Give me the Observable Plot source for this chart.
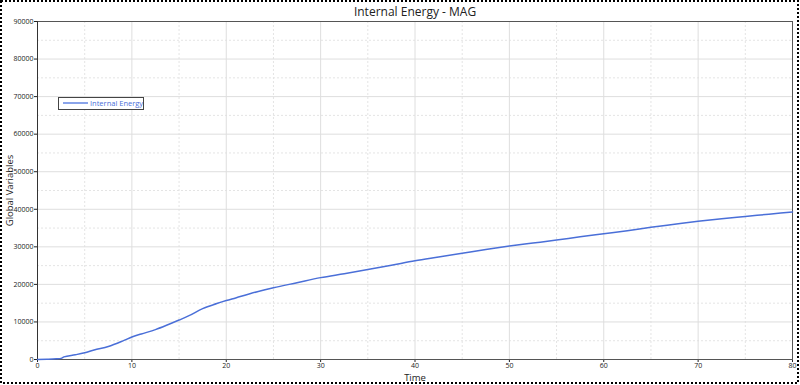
<!DOCTYPE html>
<html>
<head>
<meta charset="utf-8">
<script src="https://cdn.jsdelivr.net/npm/d3@7"></script>
<script src="https://cdn.jsdelivr.net/npm/@observablehq/plot@0.6"></script>
<style>
  html, body { margin: 0; padding: 0; background: #fff; }
  #wrap { position: relative; width: 800px; height: 385px; overflow: hidden; }
  #legend {
    position: absolute; left: 58px; top: 97px; width: 84px; height: 11px;
    border: 1px solid #444; background: #fff; box-sizing: content-box;
    font-family: "Open Sans", sans-serif; font-size: 7.5px; color: #4a6fd8;
    line-height: 11px; white-space: nowrap;
  }
  #legend .sw { display: inline-block; width: 25px; height: 0; border-top: 2px solid #8aa4ea; vertical-align: middle; margin: 0 2px 0 4px; position: relative; top: -1px; }
  #border { position: absolute; left: 0; top: 0; pointer-events: none; }
</style>
</head>
<body>
<div id="wrap">
  <div id="chart"></div>
  <div id="legend"><span class="sw"></span>Internal Energy</div>
  <svg id="border" width="800" height="385"><rect x="1" y="1" width="797" height="382" fill="none" stroke="#000" stroke-width="2" stroke-dasharray="2,2"/></svg>
</div>
<script>
const title = "Internal Energy - MAG";
const seriesName = "Internal Energy";
const xLabel = "Time";
const yLabel = "Global Variables";

const time = [0, 1, 2, 2.5, 2.8, 4, 5, 6, 7.5, 9, 10, 11, 12.5, 14, 15, 16, 17.5, 19, 20, 21, 22.5, 24, 25, 27.5, 30, 32.5, 35, 37.5, 40, 42.5, 45, 47.5, 50, 52.5, 55, 57.5, 60, 62.5, 65, 67.5, 70, 72.5, 75, 77.5, 80];
const energy = [0, 60, 180, 300, 700, 1250, 1800, 2550, 3450, 4900, 6000, 6800, 7950, 9450, 10500, 11600, 13550, 14900, 15700, 16400, 17500, 18500, 19100, 20450, 21800, 22850, 23950, 25100, 26300, 27300, 28300, 29300, 30200, 31000, 31800, 32700, 33500, 34300, 35200, 36000, 36800, 37500, 38100, 38700, 39300];

const xMajor = [0, 10, 20, 30, 40, 50, 60, 70, 80];
const xMinor = [5, 15, 25, 35, 45, 55, 65, 75];
const yMajor = [0, 10000, 20000, 30000, 40000, 50000, 60000, 70000, 80000, 90000];
const yMinor = [5000, 15000, 25000, 35000, 45000, 55000, 65000, 75000, 85000];

const data = time.map((t, i) => ({t, v: energy[i]}));

const chart = Plot.plot({
  width: 800,
  height: 385,
  marginLeft: 37,
  marginRight: 8,
  marginTop: 21,
  marginBottom: 26,
  style: {fontFamily: "'Open Sans', sans-serif", fontSize: "7px", color: "#222", background: "#fff"},
  x: {domain: [0, 80], ticks: xMajor, tickSize: 3, tickPadding: 1, label: xLabel, labelArrow: "none", labelAnchor: "center", labelOffset: 21, tickFormat: d => String(d)},
  y: {domain: [0, 90000], ticks: yMajor, tickSize: 3, tickPadding: 1, label: yLabel, labelArrow: "none", labelAnchor: "center", labelOffset: 31, tickFormat: d => String(d)},
  marks: [
    Plot.gridX(xMinor, {stroke: "#e4e4e4", strokeOpacity: 1, strokeDasharray: "2,2"}),
    Plot.gridY(yMinor, {stroke: "#e4e4e4", strokeOpacity: 1, strokeDasharray: "2,2"}),
    Plot.gridX(xMajor, {stroke: "#dedede", strokeOpacity: 1}),
    Plot.gridY(yMajor, {stroke: "#dedede", strokeOpacity: 1}),
    Plot.frame({stroke: "#555"}),
    Plot.ruleX([0], {stroke: "#333"}),
    Plot.line(data, {x: "t", y: "v", stroke: "#4a6fd8", strokeWidth: 1.5, curve: "monotone-x"}),
    Plot.text([title], {frameAnchor: "top", dy: -14, fontSize: 12, fill: "#222"})
  ]
});
chart.querySelectorAll('[aria-label="x-axis label"] text, [aria-label="y-axis label"] text').forEach(t => { t.style.fontSize = "9.5px"; });
document.getElementById("chart").appendChild(chart);
</script>
</body>
</html>
